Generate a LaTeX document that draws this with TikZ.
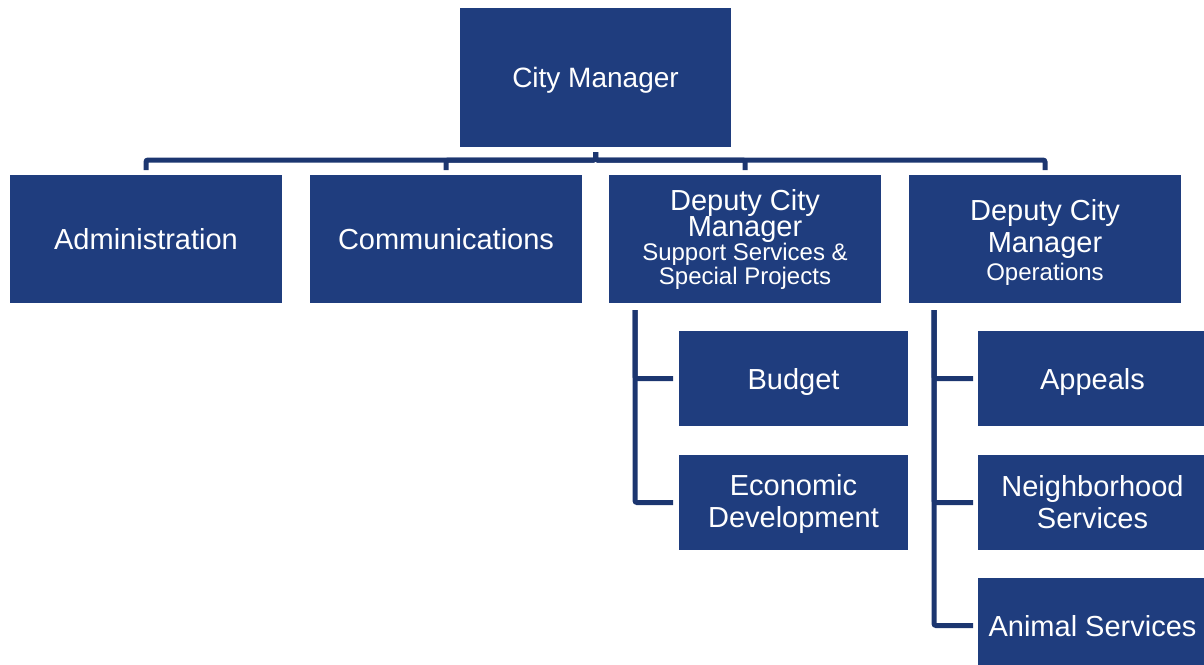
\documentclass[tikz,border=0pt]{standalone}
\usepackage{fontspec}
\setmainfont{Liberation Sans}
\usetikzlibrary{positioning}
\definecolor{orgblue}{RGB}{31,61,126}
\definecolor{orgline}{RGB}{28,54,112}
\tikzset{
  boss/.style={rectangle, minimum width=271pt, minimum height=139pt, text centered, fill=orgblue, text=white, inner sep=0pt, outer sep=0pt, text depth=0pt, font=\fontsize{28}{32}\selectfont},
  dept/.style={rectangle, minimum width=272pt, minimum height=128pt, align=center, fill=orgblue, text=white, inner sep=0pt, outer sep=0pt, font=\fontsize{29}{32}\selectfont},
  unit/.style={rectangle, minimum width=229pt, minimum height=95pt, align=center, fill=orgblue, text=white, inner sep=0pt, outer sep=0pt, font=\fontsize{29}{32}\selectfont},
  oneline/.style={text depth=0pt},
  link/.style={draw=orgline, line width=5pt, rounded corners=2pt},
  node distance=28pt
}
\begin{document}
\begin{tikzpicture}[x=1pt,y=1pt]
	\clip (0,0) rectangle (1204,-664);
	\node[boss] (cm) at (595.5,-77.5) {City Manager};
	\node[dept] (admin) at (146,-239) {Administration};
	\node[dept, right=of admin] (comm) {Communications};
	\node[dept, right=27pt of comm, font=\fontsize{29}{24}\selectfont] (dcmsup) {Deputy City\\[-1pt]Manager\\{\fontsize{24}{24}\selectfont Support Services \&}\\{\fontsize{24}{24}\selectfont Special Projects}};
	\node[dept, right=of dcmsup] (dcmops) {\rule{0pt}{28pt}Deputy City\\Manager\\[-4pt]{\fontsize{24}{30}\selectfont Operations}};
	\node[unit, oneline] (budget) at (793.5,-378.5) {Budget};
	\node[unit, below=29pt of budget] (econ) {\rule{0pt}{25pt}Economic\\Development};
	\node[unit, oneline] (appeals) at (1092.5,-378.5) {Appeals};
	\node[unit, below=29pt of appeals] (neigh) {Neighborhood\\Services};
	\node[unit, oneline, below=of neigh] (animal) {Animal Services};
	%
	\foreach \d in {admin,comm,dcmsup,dcmops}
		\draw[link] ([yshift=5pt]\d.north) |- ([yshift=-13pt]cm.south) -- ([yshift=-5pt]cm.south);
	\foreach \u in {budget,econ}
		\draw[link] ([xshift=26pt,yshift=-7pt]dcmsup.south west) |- ([xshift=-6pt]\u.west);
	\foreach \u in {appeals,neigh,animal}
		\draw[link] ([xshift=25pt,yshift=-7pt]dcmops.south west) |- ([xshift=-5pt]\u.west);
\end{tikzpicture}
\end{document}
